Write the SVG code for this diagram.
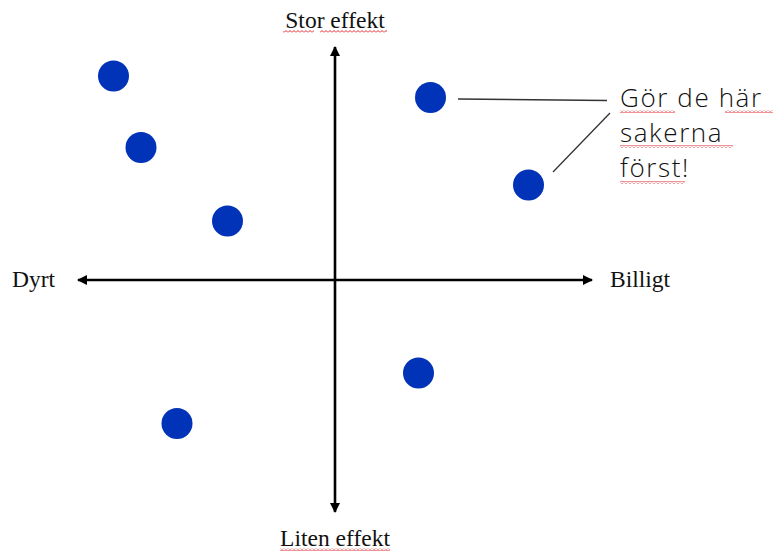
<svg xmlns="http://www.w3.org/2000/svg" width="776" height="553" viewBox="0 0 776 553">
  <style>
    .axis { stroke: #000; stroke-width: 2.6; fill: none; }
    .lbl { font-family: "Liberation Serif", "Times New Roman", serif; font-size: 23.5px; fill: #111; }
    .call { font-family: "Open Sans", "Noto Sans", sans-serif; font-size: 26px; font-weight: 300; letter-spacing: 1.6px; fill: #111; }
    .dot { fill: #0033B8; }
    .lead { stroke: #333; stroke-width: 1.3; fill: none; }
    .wave { fill: url(#wave); }
  </style>
  <defs>
    <marker id="ah" viewBox="0 0 10 10" refX="9" refY="5" markerWidth="4" markerHeight="4" orient="auto-start-reverse" markerUnits="strokeWidth">
      <path d="M0,0 L10,5 L0,10 Z" fill="#000"/>
    </marker>
    <pattern id="wave" patternUnits="userSpaceOnUse" width="4" height="3">
      <path d="M0,2.5 L2,0.5 L4,2.5" stroke="#e0282e" stroke-width="1" fill="none"/>
    </pattern>
  </defs>
  <rect width="776" height="553" fill="#fff"/>

  <g id="connectors">
    <line class="axis" x1="335" y1="512" x2="335" y2="47" marker-end="url(#ah)" marker-start="url(#ah)"/>
    <line class="axis" x1="78" y1="280" x2="592" y2="280" marker-end="url(#ah)" marker-start="url(#ah)"/>
    <line class="lead" x1="458" y1="99" x2="607" y2="100.5"/>
    <line class="lead" x1="610" y1="113" x2="553" y2="172"/>
  </g>

  <g id="label-stor">
    <text class="lbl" x="335" y="28" text-anchor="middle">Stor effekt</text>
    <rect class="wave" x="283" y="30" width="31" height="3"/>
    <rect class="wave" x="320" y="30" width="67" height="3"/>
  </g>
  <g id="label-liten">
    <text class="lbl" x="335" y="546" text-anchor="middle">Liten effekt</text>
    <rect class="wave" x="280" y="548" width="110" height="3"/>
  </g>
  <g id="label-dyrt">
    <text class="lbl" x="12" y="287">Dyrt</text>
  </g>
  <g id="label-billigt">
    <text class="lbl" x="610" y="287">Billigt</text>
  </g>

  <g id="callout">
    <text class="call" x="620" y="107">Gör de här</text>
    <text class="call" x="620" y="142">sakerna</text>
    <text class="call" x="620" y="177">först!</text>
    <rect class="wave" x="620" y="110" width="55" height="3"/>
    <rect class="wave" x="725" y="110" width="48" height="3"/>
    <rect class="wave" x="620" y="145" width="113" height="3"/>
    <rect class="wave" x="620" y="181" width="65" height="3"/>
  </g>

  <g id="dot1"><circle class="dot" cx="113.5" cy="76" r="15.5"/></g>
  <g id="dot2"><circle class="dot" cx="141" cy="147.5" r="15.5"/></g>
  <g id="dot3"><circle class="dot" cx="227.5" cy="221" r="15.5"/></g>
  <g id="dot4"><circle class="dot" cx="430.5" cy="97.5" r="15.5"/></g>
  <g id="dot5"><circle class="dot" cx="528.5" cy="185" r="15.5"/></g>
  <g id="dot6"><circle class="dot" cx="418.5" cy="373" r="15.5"/></g>
  <g id="dot7"><circle class="dot" cx="177" cy="423.5" r="15.5"/></g>
</svg>
